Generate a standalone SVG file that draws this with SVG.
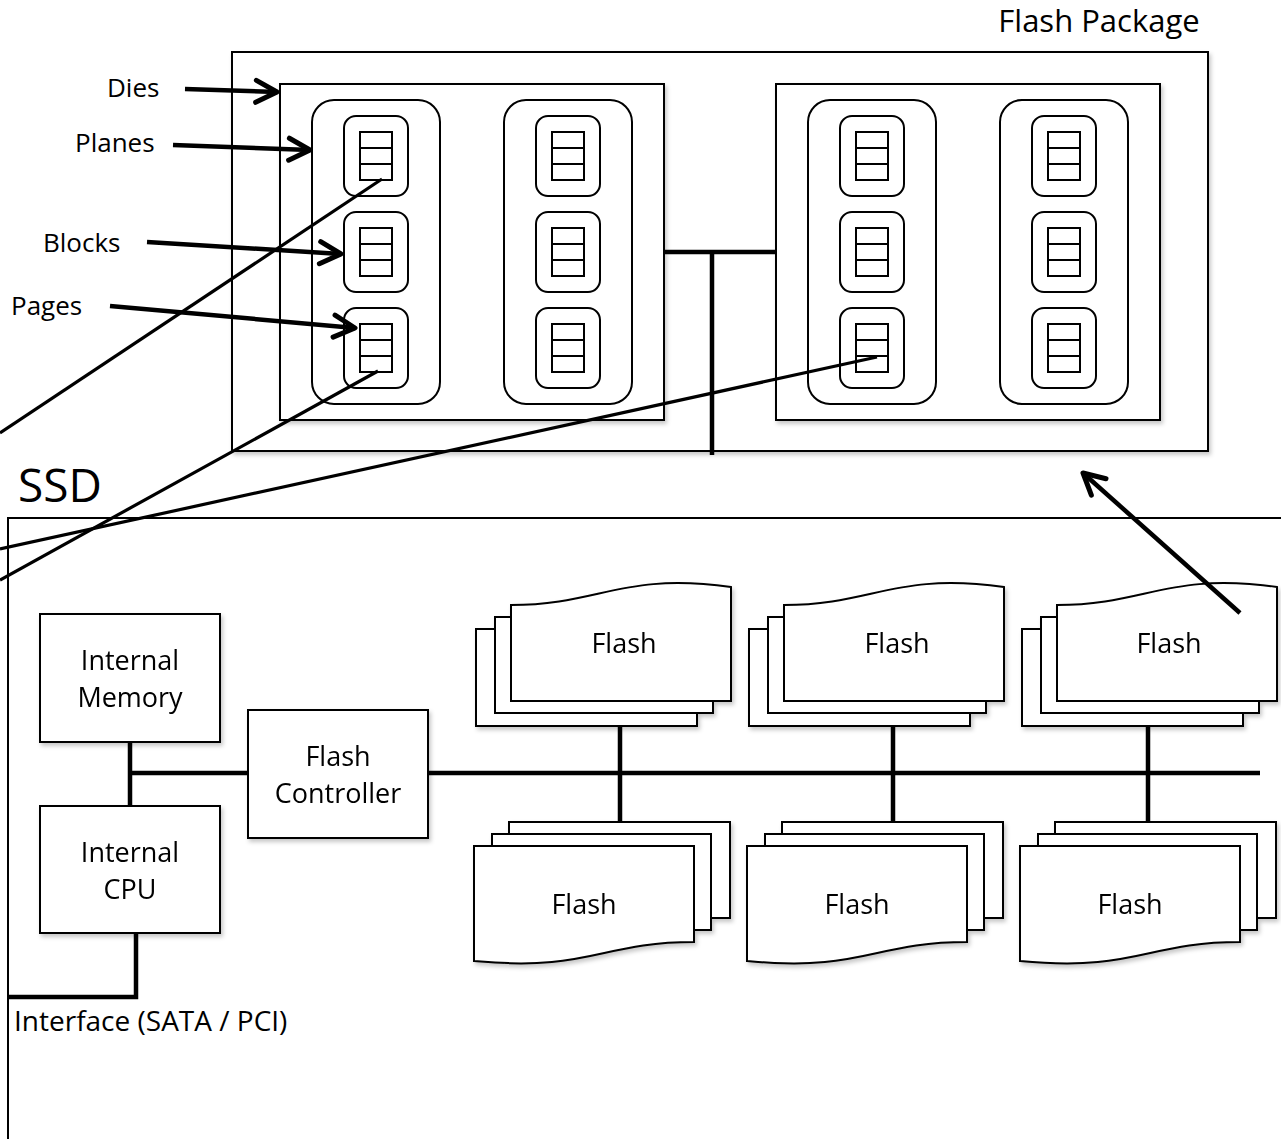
<svg xmlns="http://www.w3.org/2000/svg" width="1281" height="1139" viewBox="0 0 1281 1139">
  <defs>
    <style>
      .lbl { font-family: "Open Sans", "Noto Sans", sans-serif; fill: #000; }
      .box { fill: #fff; stroke: #000; stroke-width: 2; }
      .plane { fill: #fff; stroke: #000; stroke-width: 2; }
      .page { fill: #fff; stroke: #000; stroke-width: 2; }
      .bus { fill: none; stroke: #000; stroke-width: 4.5; }
      .wire { fill: none; stroke: #000; stroke-width: 3.2; }
      .arrow { fill: none; stroke: #000; stroke-width: 4.5; marker-end: url(#chev); }
      .shadow { filter: url(#soft); }
    </style>
    <filter id="soft" x="-5%" y="-5%" width="115%" height="115%">
      <feDropShadow dx="2" dy="3" stdDeviation="2" flood-color="#000" flood-opacity="0.22"/>
    </filter>
    <marker id="chev" markerUnits="userSpaceOnUse" viewBox="-26 -15 30 30" refX="0" refY="0" markerWidth="30" markerHeight="30" orient="auto">
      <path d="M-21,-11 L0,0 L-21,11" fill="none" stroke="#000" stroke-width="5" stroke-linecap="round" stroke-linejoin="round"/>
    </marker>
    <!-- one block: rounded cell holding a three-page strip -->
    <g id="block">
      <rect x="0" y="0" width="64" height="80" rx="12" class="plane"/>
      <rect x="16" y="16" width="32" height="48" class="page"/>
      <line x1="16" y1="32" x2="48" y2="32" stroke="#000" stroke-width="2"/>
      <line x1="16" y1="48" x2="48" y2="48" stroke="#000" stroke-width="2"/>
    </g>
    <!-- one plane: rounded column with three blocks -->
    <g id="plane">
      <rect x="0" y="0" width="128" height="304" rx="22" class="plane"/>
      <use href="#block" x="32" y="16"/>
      <use href="#block" x="32" y="112"/>
      <use href="#block" x="32" y="208"/>
    </g>
    <!-- flash stack with the wavy edge on top -->
    <g id="stackTop">
      <rect x="0" y="44" width="221" height="97" class="box"/>
      <rect x="19" y="32" width="218" height="96" class="box"/>
      <path d="M35,20 C124,20 145,-13 255,2 L255,116 L35,116 Z" class="box"/>
    </g>
    <!-- flash stack with the wavy edge at the bottom -->
    <g id="stackBottom">
      <rect x="35" y="0" width="221" height="96" class="box"/>
      <rect x="18" y="12" width="219" height="96" class="box"/>
      <path d="M0,24 L220,24 L220,120 C126,120 116,150 0,139 Z" class="box"/>
    </g>
  </defs>

  <rect width="1281" height="1139" fill="#fff"/>

  <!-- Flash package -->
  <g id="flash-package">
    <rect x="232" y="52" width="976" height="399" class="box shadow"/>
    <text x="1099" y="32" text-anchor="middle" font-size="31" class="lbl">Flash Package</text>
  </g>

  <g id="die-1" class="shadow">
    <rect x="280" y="84" width="384" height="336" class="box"/>
    <use href="#plane" x="312" y="100"/>
    <use href="#plane" x="504" y="100"/>
  </g>

  <g id="die-2" class="shadow">
    <rect x="776" y="84" width="384" height="336" class="box"/>
    <use href="#plane" x="808" y="100"/>
    <use href="#plane" x="1000" y="100"/>
  </g>

  <!-- hierarchy labels -->
  <g id="labels">
    <text x="107" y="97" font-size="26" class="lbl">Dies</text>
    <text x="75" y="152" font-size="26" class="lbl">Planes</text>
    <text x="43" y="252" font-size="26" class="lbl">Blocks</text>
    <text x="11" y="315" font-size="26" class="lbl">Pages</text>
    <text x="18" y="502" font-size="46" class="lbl">SSD</text>
    <text x="14" y="1031" font-size="28" class="lbl">Interface (SATA / PCI)</text>
  </g>

  <!-- SSD enclosure (open on the right and bottom) -->
  <g id="ssd">
    <path d="M8,1139 L8,518 L1281,518" fill="none" stroke="#000" stroke-width="2"/>
  </g>

  <g id="internal-memory" class="shadow">
    <rect x="40" y="614" width="180" height="128" class="box"/>
    <text x="130" y="670" text-anchor="middle" font-size="27" class="lbl">Internal</text>
    <text x="130" y="707" text-anchor="middle" font-size="27" class="lbl">Memory</text>
  </g>

  <g id="internal-cpu" class="shadow">
    <rect x="40" y="806" width="180" height="127" class="box"/>
    <text x="130" y="862" text-anchor="middle" font-size="27" class="lbl">Internal</text>
    <text x="130" y="899" text-anchor="middle" font-size="27" class="lbl">CPU</text>
  </g>

  <g id="flash-controller" class="shadow">
    <rect x="248" y="710" width="180" height="128" class="box"/>
    <text x="338" y="766" text-anchor="middle" font-size="27" class="lbl">Flash</text>
    <text x="338" y="803" text-anchor="middle" font-size="27" class="lbl">Controller</text>
  </g>

  <!-- flash stacks above the bus -->
  <g id="flash-top-1" class="shadow">
    <use href="#stackTop" x="476" y="585"/>
    <text x="624" y="653" text-anchor="middle" font-size="27" class="lbl">Flash</text>
  </g>
  <g id="flash-top-2" class="shadow">
    <use href="#stackTop" x="749" y="585"/>
    <text x="897" y="653" text-anchor="middle" font-size="27" class="lbl">Flash</text>
  </g>
  <g id="flash-top-3" class="shadow">
    <use href="#stackTop" x="1022" y="585"/>
    <text x="1169" y="653" text-anchor="middle" font-size="27" class="lbl">Flash</text>
  </g>

  <!-- flash stacks below the bus -->
  <g id="flash-bottom-1" class="shadow">
    <use href="#stackBottom" x="474" y="822"/>
    <text x="584" y="914" text-anchor="middle" font-size="27" class="lbl">Flash</text>
  </g>
  <g id="flash-bottom-2" class="shadow">
    <use href="#stackBottom" x="747" y="822"/>
    <text x="857" y="914" text-anchor="middle" font-size="27" class="lbl">Flash</text>
  </g>
  <g id="flash-bottom-3" class="shadow">
    <use href="#stackBottom" x="1020" y="822"/>
    <text x="1130" y="914" text-anchor="middle" font-size="27" class="lbl">Flash</text>
  </g>

  <!-- connectors -->
  <g id="connectors">
    <!-- die interconnect -->
    <path d="M664,252 L776,252 M712,252 L712,455" class="bus"/>
    <!-- controller side bus -->
    <path d="M130,742 L130,806 M130,773 L248,773" class="bus"/>
    <path d="M428,773 L1260,773" class="bus"/>
    <path d="M8,997 L136,997 L136,933" class="bus"/>
    <!-- flash stack drops -->
    <path d="M620,726 L620,822 M893,726 L893,822 M1148,726 L1148,822" class="bus"/>
    <!-- hierarchy pointers -->
    <path d="M185,89 L277,92" class="arrow"/>
    <path d="M173,145 L310,150" class="arrow"/>
    <path d="M147,242 L341,254" class="arrow"/>
    <path d="M110,306 L355,328" class="arrow"/>
    <path d="M1240,613 L1083,473" class="arrow"/>
    <!-- long leader lines leaving to the left -->
    <path d="M382,179 L0,433" class="wire"/>
    <path d="M378,371 L0,580" class="wire"/>
    <path d="M877,357 L0,549" class="wire"/>
  </g>
</svg>
